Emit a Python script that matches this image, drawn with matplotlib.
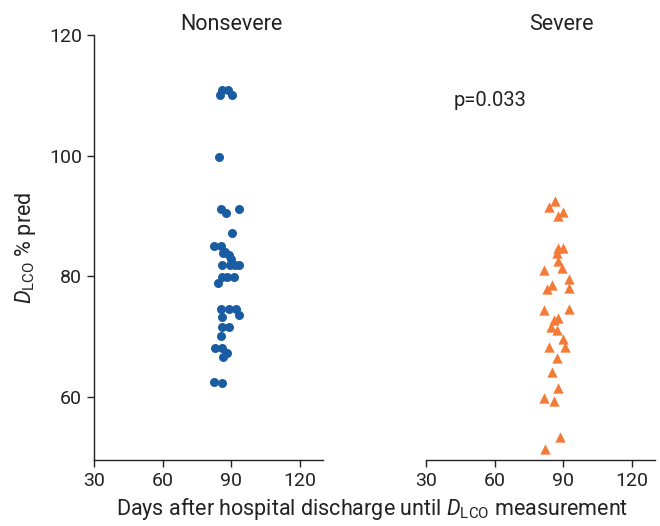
import numpy as np
import matplotlib
matplotlib.use("Agg")
import matplotlib.pyplot as plt

plt.rcParams['font.family'] = ['Roboto', 'DejaVu Sans']
plt.rcParams['mathtext.fontset'] = 'custom'
plt.rcParams['mathtext.rm'] = 'Roboto'
plt.rcParams['mathtext.it'] = 'Roboto:italic'

groups = ["Nonsevere", "Severe"]

# nonsevere: days after discharge, DLCO % pred
ns_days = [85.7, 88.6, 85.2, 90.3, 84.7,
           85.3, 87.6, 93.4, 90.1, 82.4, 85.3, 87.2, 86.2, 89.1, 89.7,
           85.7, 89.4, 91.6, 93.4, 85.7, 88.2, 91.1, 84.3,
           85.3, 89.1, 92.0, 93.4, 85.7, 85.7, 89.1, 85.3,
           82.8, 85.7, 87.9, 86.5, 82.4, 85.7]
ns_dlco = [110.9, 110.9, 110.0, 110.1, 99.7,
           91.2, 90.5, 91.1, 87.1, 85.0, 85.0, 84.0, 83.8, 83.5, 82.8,
           81.8, 81.8, 81.8, 81.8, 79.8, 79.8, 79.8, 78.9,
           74.5, 74.6, 74.6, 73.5, 73.2, 71.6, 71.6, 70.1,
           68.0, 68.0, 67.3, 66.6, 62.5, 62.2]

# severe
sv_days = [86.3, 83.9, 90.0, 87.8, 87.8, 90.0, 87.3, 87.8, 81.5, 89.5,
           92.6, 84.9, 83.0, 92.6, 81.5, 92.6, 87.8, 85.9, 84.4, 87.3,
           90.0, 83.9, 90.6, 87.3, 84.9, 87.8, 81.5, 85.9, 88.5, 82.0]
sv_dlco = [92.5, 91.4, 90.7, 90.0, 84.6, 84.6, 83.9, 82.5, 81.0, 81.4,
           79.5, 78.5, 77.8, 78.1, 74.4, 74.5, 73.1, 72.7, 71.5, 71.0,
           69.5, 68.3, 68.3, 66.4, 64.1, 61.5, 59.8, 59.3, 53.3, 51.4]

p_text = "p=0.033"
xticks = [30, 60, 90, 120]
yticks = [60, 80, 100, 120]

blue = "#1a5ca2"
orange = "#f47a38"
ink = '#222222'

fig = plt.figure(figsize=(6.6, 5.26), dpi=100)
ax1 = fig.add_axes([0.1424, 0.1255, 0.347, 0.808])
ax2 = fig.add_axes([0.6455, 0.1255, 0.347, 0.808])

ax1.scatter(ns_days, ns_dlco, s=42, color=blue, marker='o', linewidths=0, zorder=3)
ax2.scatter(sv_days, sv_dlco, s=55, color=orange, marker='^', linewidths=0, zorder=3)

for ax, name in zip([ax1, ax2], groups):
    ax.set_xlim(30, 130)
    ax.set_ylim(49.5, 120)
    ax.set_xticks(xticks)
    ax.spines['top'].set_visible(False)
    ax.spines['right'].set_visible(False)
    ax.tick_params(labelsize=14, length=5, width=1, color=ink, labelcolor=ink)
    ax.set_title(name, fontsize=15.5, color=ink, pad=0)
    for s in ax.spines.values():
        s.set_linewidth(1)
        s.set_color(ink)

ax1.set_yticks(yticks)
ax2.spines['left'].set_visible(False)
ax2.set_yticks([])

ax1.title.set_position((0.6, 1.0))
ax2.title.set_position((0.59, 1.0))

ax2.text(58, 109.2, p_text, fontsize=14.5, color=ink, ha='center', va='center')

ax1.set_ylabel(r"$\mathit{D}_{\mathrm{LCO}}$ % pred", fontsize=15.5, color=ink, labelpad=8)
fig.text(0.563, 0.008, r"Days after hospital discharge until $\mathit{D}_{\mathrm{LCO}}$ measurement",
         fontsize=15.5, color=ink, ha='center', va='bottom')

fig.savefig("out.png", dpi=100)
